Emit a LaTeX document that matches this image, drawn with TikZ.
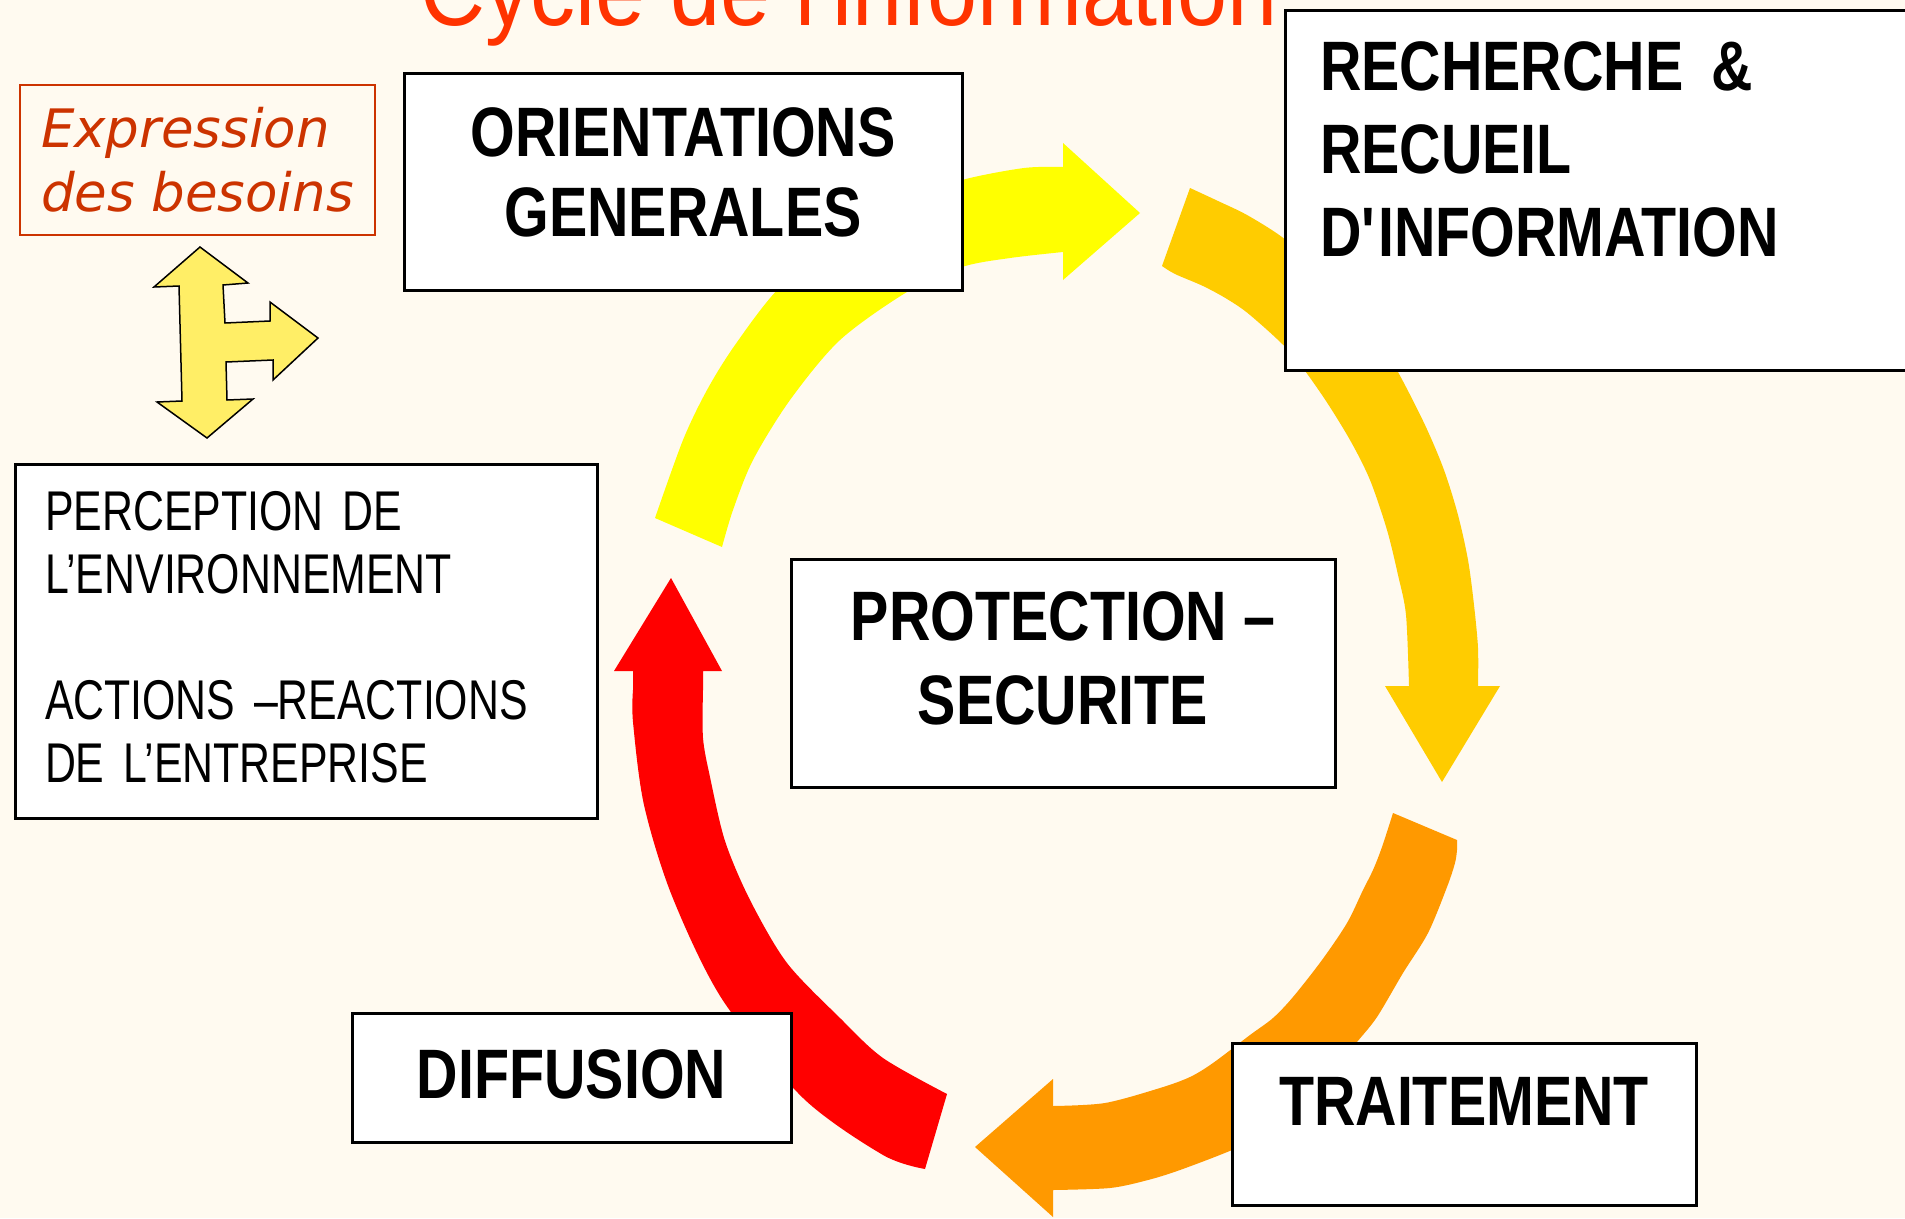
\documentclass[tikz,border=0pt]{standalone}
\usepackage{fontspec}
\usepackage{xcolor}
\usepackage{tikz}
\usetikzlibrary{shapes.geometric, arrows}
\setmainfont{Liberation Sans}
\newfontfamily\boxfont[FakeStretch=0.82]{Liberation Sans}
\newfontfamily\narrowfont[FakeStretch=0.765]{Liberation Sans}
\newfontfamily\needfont{DejaVu Sans}
\newfontfamily\titlefont[FakeStretch=0.9]{Liberation Sans}
\definecolor{bgcream}{HTML}{FFFAF0}
\definecolor{needred}{HTML}{CC3300}
\definecolor{titlered}{HTML}{FF3300}
\definecolor{arrowyellow}{HTML}{FFFF00}
\definecolor{arrowgold}{HTML}{FFCC00}
\definecolor{arroworange}{HTML}{FF9900}
\definecolor{arrowred}{HTML}{FF0000}
\definecolor{forkyellow}{HTML}{FFEE66}
\tikzstyle{stage} = [rectangle, draw=black, line width=3pt, fill=white, align=center, font=\boxfont\bfseries\fontsize{70}{84}\selectfont]
\tikzstyle{stageleft} = [rectangle, draw=black, line width=3pt, fill=white, align=left]
\tikzstyle{need} = [rectangle, draw=needred, line width=2pt, fill=bgcream, text=needred, align=left, font=\needfont\itshape\fontsize{53}{64}\selectfont]
\tikzstyle{fork} = [fill=forkyellow, draw=black, line width=1.5pt, line join=miter]
\tikzstyle{title} = [anchor=base west, inner sep=0pt, text=titlered, font=\titlefont\fontsize{100}{100}\selectfont]

\begin{document}
\begin{tikzpicture}[x=1pt, y=-1pt]
        \useasboundingbox (0,0) rectangle (1905,1218);
        \fill[bgcream] (0,0) rectangle (1905,1218);

        % cycle arrows, drawn under the boxes
        \fill[arrowyellow] plot[smooth] coordinates {(655,518) (683,440) (707,390) (735,345) (780,287) (850,228) (900,202) (962,180) (1024,168) (1063,167)}
            -- (1063,143) -- (1140,213) -- (1063,280) -- (1063,252)
            -- plot[smooth] coordinates {(1063,252) (1010,258) (962,267) (907,292) (840,340) (790,400) (753,460) (733,510) (722,547)}
            -- cycle;
        \fill[arrowgold] plot[smooth] coordinates {(1190,188) (1218,201) (1247,215) (1282,237) (1330,275) (1370,325) (1398,372) (1425,425) (1444,470) (1458,515) (1468,560) (1474,605) (1478,648) (1478,686)}
            -- (1500,686) -- (1442,782) -- (1385,686) -- (1409,686)
            -- plot[smooth] coordinates {(1409,686) (1406,615) (1398,575) (1387,530) (1370,480) (1350,440) (1322,395) (1290,352) (1250,315) (1227,299) (1203,286) (1175,274) (1162,266)}
            -- cycle;
        \fill[arroworange] (1393,813) -- (1457,840)
            -- plot[smooth] coordinates {(1457,850) (1455,863) (1447,887) (1428,933) (1403,973) (1377,1017) (1357,1042) (1330,1075) (1295,1110) (1260,1135) (1232,1150) (1180,1170) (1148,1180) (1110,1188) (1053,1190)}
            -- (1053,1217) -- (975,1147) -- (1053,1079) -- (1053,1106)
            -- plot[smooth] coordinates {(1053,1106) (1105,1103) (1160,1088) (1190,1077) (1213,1063) (1250,1035) (1273,1018) (1293,997) (1322,960) (1347,923) (1363,890) (1373,870) (1382,847) (1393,813)}
            -- cycle;
        \fill[arrowred] (925,1169) -- (947,1094)
            -- plot[smooth] coordinates {(947,1094) (883,1058) (840,1018) (787,963) (750,900) (725,841) (710,777) (703,738) (703,690)}
            -- (703,671) -- (722,671) -- (671,578) -- (614,671) -- (633,671)
            -- plot[smooth] coordinates {(633,690) (633,722) (644,805) (672,896) (722,999) (803,1098) (883,1155) (925,1169)}
            -- cycle;

        \filldraw[fork] (200,247) -- (248,283) -- (223,285) -- (225,323) -- (270,321) -- (270,302) -- (318,338) -- (273,380) -- (273,360) -- (226,362) -- (227,400) -- (253,399) -- (207,438) -- (157,402) -- (182,401) -- (179,286) -- (154,287) -- cycle;

        \node (title) [title] at (420,25) {Cycle de l'information};
        \node (need) [need, minimum width=355, minimum height=150] at (197.5,160) {Expression\\des besoins};
        \node (orient) [stage, minimum width=558, minimum height=217, font=\boxfont\bfseries\fontsize{70}{80}\selectfont] at (683,181.5) {ORIENTATIONS\\GENERALES\rule[-19pt]{0pt}{19pt}};
        \node (search) [stageleft, minimum width=635, minimum height=360, text width=565, inner xsep=35, font=\boxfont\bfseries\fontsize{70}{83}\selectfont] at (1602.5,190) {RECHERCHE\hspace{28pt}\&\\RECUEIL\\D\textquotesingle INFORMATION\rule[-81pt]{0pt}{81pt}};
        \node (perceive) [stageleft, minimum width=582, minimum height=354, text width=522, inner xsep=30, font=\narrowfont\fontsize{56}{63}\selectfont] at (306,641) {PERCEPTION DE\\L’ENVIRONNEMENT\\[63pt]ACTIONS –REACTIONS\\DE L’ENTREPRISE\rule[-9pt]{0pt}{9pt}};
        \node (protect) [stage, minimum width=544, minimum height=228] at (1063,673) {PROTECTION –\\SECURITE\rule[-30pt]{0pt}{30pt}};
        \node (spread) [stage, minimum width=439, minimum height=129] at (571.5,1077.5) {DIFFUSION\rule[-7pt]{0pt}{7pt}};
        \node (process) [stage, minimum width=464, minimum height=162] at (1464,1124) {TRAITEMENT\rule[-46pt]{0pt}{46pt}};

\end{tikzpicture}
\end{document}
